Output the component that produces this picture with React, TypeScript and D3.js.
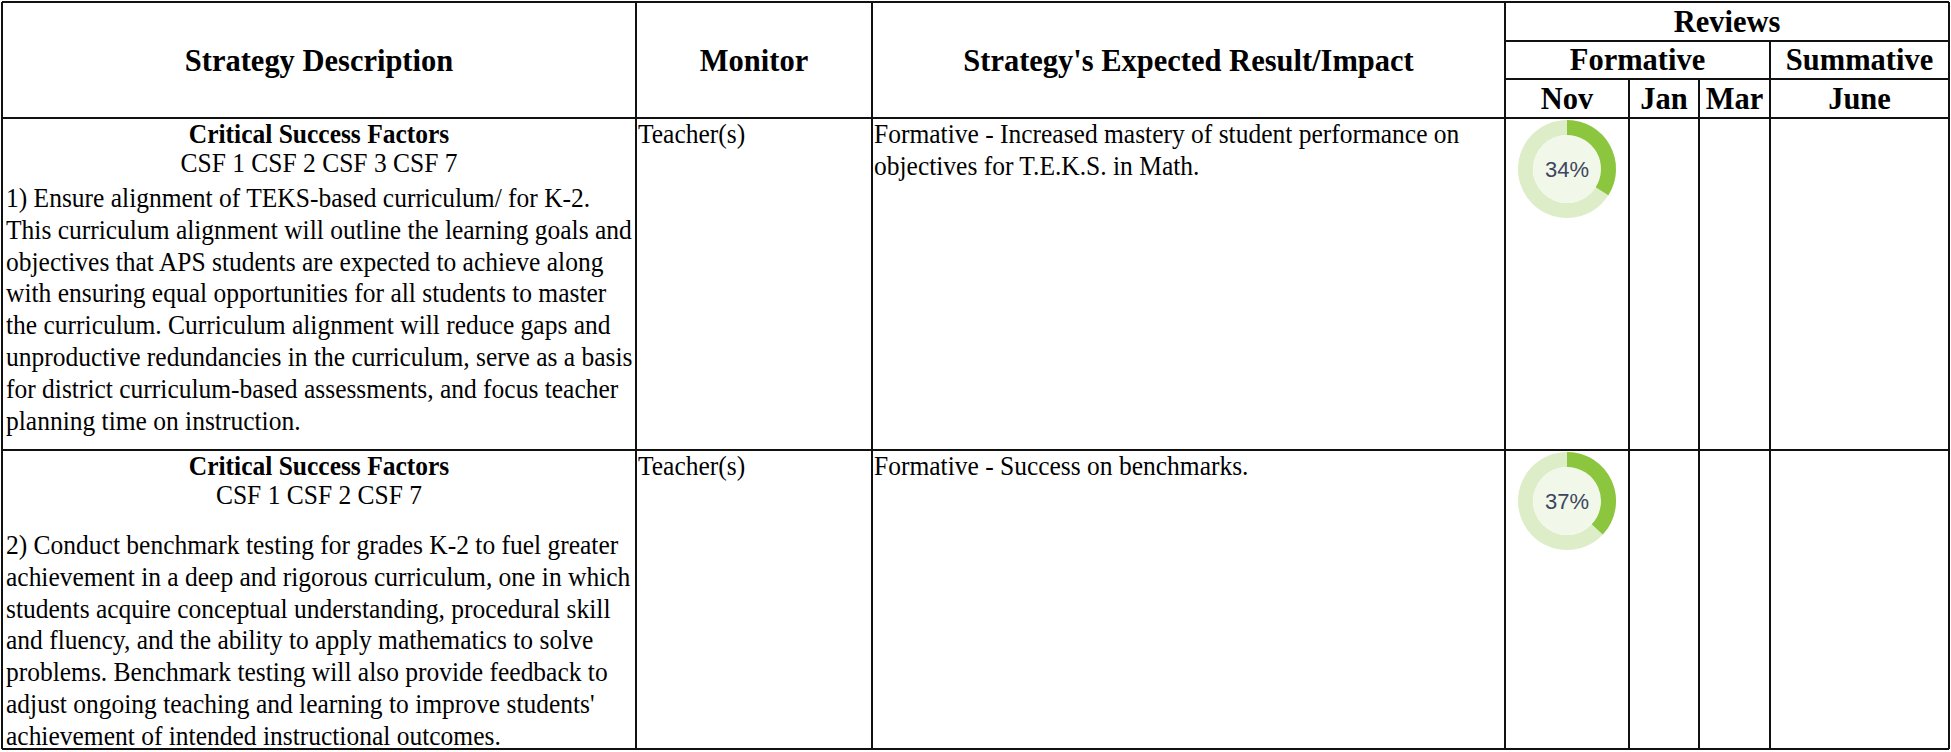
import React from "react";
import * as d3 from "d3";

// header labels
const mainHeaders = ["Strategy Description", "Monitor", "Strategy's Expected Result/Impact"];
const reviewGroups = ["Formative", "Summative"];
const reviewMonths = ["Nov", "Jan", "Mar", "June"];

// strategy rows
const csfLists = ["CSF 1 CSF 2 CSF 3 CSF 7", "CSF 1 CSF 2 CSF 7"];
const monitors = ["Teacher(s)", "Teacher(s)"];
const descriptions = [
  [
    "1) Ensure alignment of TEKS-based curriculum/ for K-2.",
    "This curriculum alignment will outline the learning goals and",
    "objectives that APS students are expected to achieve along",
    "with ensuring equal opportunities for all students to master",
    "the curriculum. Curriculum alignment will reduce gaps and",
    "unproductive redundancies in the curriculum, serve as a basis",
    "for district curriculum-based assessments, and focus teacher",
    "planning time on instruction.",
  ],
  [
    "2) Conduct benchmark testing for grades K-2 to fuel greater",
    "achievement in a deep and rigorous curriculum, one in which",
    "students acquire conceptual understanding, procedural skill",
    "and fluency, and the ability to apply mathematics to solve",
    "problems. Benchmark testing will also provide feedback to",
    "adjust ongoing teaching and learning to improve students'",
    "achievement of intended instructional outcomes.",
  ],
];
const impacts = [
  ["Formative - Increased mastery of student performance on", "objectives for T.E.K.S. in Math."],
  ["Formative - Success on benchmarks."],
];
const novProgress = [34, 37];

const width = 1951;
const height = 752;
// column edges
const cols = [2, 636, 872, 1505, 1629, 1699, 1770, 1949];
const rowTops = [118, 450];
const paraOffsets = [89, 104];
const bottom = 749;
const lh = 31.8;
const serif = "'Liberation Serif', 'Times New Roman', serif";

const pct = d3.scaleLinear().domain([0, 100]).range([0, 2 * Math.PI]);
const ring = d3.arc().innerRadius(34).outerRadius(49);

const T = ({ x, y, children, ...rest }) => (
  <text transform={`translate(${x},${y}) scale(1,1.06)`} {...rest}>
    {children}
  </text>
);

const Donut = ({ value, cx, cy }) => (
  <g transform={`translate(${cx},${cy})`}>
    <path d={ring({ startAngle: 0, endAngle: 2 * Math.PI })} fill="#dcedc8" />
    <circle r={34} fill="#f1f8e9" />
    <path d={ring({ startAngle: 0, endAngle: pct(value) })} fill="#8cc63f" />
    <text
      y={8}
      textAnchor="middle"
      fontFamily="'Liberation Sans', Arial, sans-serif"
      fontSize={22}
      fill="#3d4660"
    >
      {value}%
    </text>
  </g>
);

export default function App() {
  const mid = (a, b) => (a + b) / 2;
  const line = (x1, y1, x2, y2, k) => (
    <line key={k} x1={x1} y1={y1} x2={x2} y2={y2} stroke="#111" strokeWidth={2} />
  );
  const lines = [];
  // outer box and row separators
  lines.push(line(cols[0], 2, cols[7], 2, "top"));
  lines.push(line(cols[0], bottom, cols[7], bottom, "bot"));
  lines.push(line(cols[0], rowTops[0], cols[7], rowTops[0], "h0"));
  lines.push(line(cols[0], rowTops[1], cols[7], rowTops[1], "h1"));
  lines.push(line(cols[3], 41, cols[7], 41, "hr"));
  lines.push(line(cols[3], 79, cols[7], 79, "hf"));
  [0, 1, 2, 3, 7].forEach((i) => lines.push(line(cols[i], 2, cols[i], bottom, "v" + i)));
  lines.push(line(cols[4], 79, cols[4], bottom, "v4"));
  lines.push(line(cols[5], 79, cols[5], bottom, "v5"));
  lines.push(line(cols[6], 41, cols[6], bottom, "v6"));

  const monthCols = [
    [cols[3], cols[4]],
    [cols[4], cols[5]],
    [cols[5], cols[6]],
    [cols[6], cols[7]],
  ];

  return (
    <div style={{ position: "absolute", left: 0, top: 0 }}>
      <svg width={width} height={height} style={{ display: "block", background: "#fff" }}>
        <g fontFamily={serif} fill="#000">
          <g fontWeight="bold" fontSize={30.5} textAnchor="middle">
            {mainHeaders.map((h, i) => (
              <T key={h} x={mid(cols[i], cols[i + 1])} y={71}>
                {h}
              </T>
            ))}
            <T x={mid(cols[3], cols[7])} y={32}>
              Reviews
            </T>
            <T x={mid(cols[3], cols[6])} y={70}>
              {reviewGroups[0]}
            </T>
            <T x={mid(cols[6], cols[7])} y={70}>
              {reviewGroups[1]}
            </T>
            {reviewMonths.map((m, i) => (
              <T key={m} x={mid(monthCols[i][0], monthCols[i][1])} y={109}>
                {m}
              </T>
            ))}
          </g>
          {rowTops.map((top, r) => (
            <g key={r} fontSize={25.5}>
              <T x={mid(cols[0], cols[1])} y={top + 25} textAnchor="middle" fontWeight="bold">
                Critical Success Factors
              </T>
              <T x={mid(cols[0], cols[1])} y={top + 54} textAnchor="middle">
                {csfLists[r]}
              </T>
              {descriptions[r].map((t, j) => (
                <T key={j} x={6} y={top + paraOffsets[r] + j * lh}>
                  {t}
                </T>
              ))}
              <T x={cols[1] + 2} y={top + 25}>
                {monitors[r]}
              </T>
              {impacts[r].map((t, j) => (
                <T key={j} x={cols[2] + 2} y={top + 25 + j * lh}>
                  {t}
                </T>
              ))}
              <Donut value={novProgress[r]} cx={mid(cols[3], cols[4])} cy={top + 51} />
            </g>
          ))}
        </g>
        {lines}
      </svg>
    </div>
  );
}
